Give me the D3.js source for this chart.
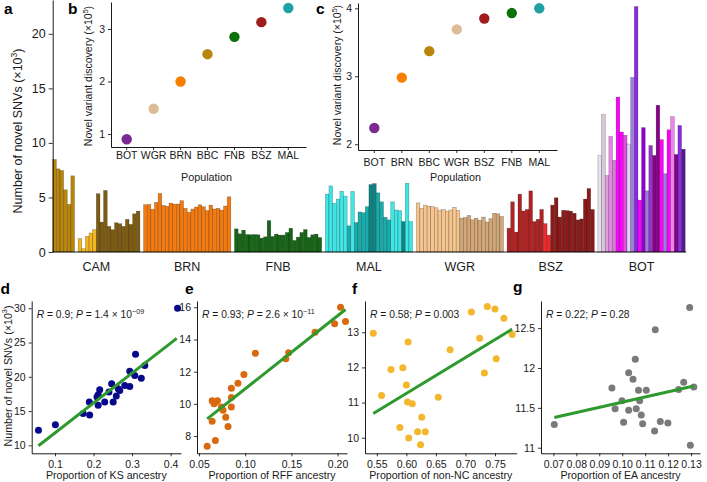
<!DOCTYPE html>
<html>
<head>
<meta charset="utf-8">
<script src="https://cdn.jsdelivr.net/npm/d3@7"></script>
<style>
  body { margin: 0; background: #fff; }
  svg { display: block; font-family: 'Liberation Sans', Arial, Helvetica, sans-serif; }
</style>
</head>
<body>
<svg id="fig" width="707" height="482"></svg>
<script>
/* ---------- data: panel a (novel SNVs per sample, x10^3) ---------- */
const camValues = [8.48, 7.62, 7.47, 5.7, 4.36, 6.98, null, 1.22, 0.3, 1.43, 1.74, 2.04,
  5.34, 2.74, 5.64, 2.35, 2.04, 2.68, 2.59, 2.35, 2.99, 2.53, 3.5, 3.75];
const camSub = ['cam1', 'cam1', 'cam1', 'cam1', 'cam1', 'cam1', null, 'cam2', 'cam2', 'cam2', 'cam2', 'cam2',
  'cam3', 'cam3', 'cam3', 'cam3', 'cam3', 'cam3', 'cam3', 'cam3', 'cam3', 'cam3', 'cam3', 'cam3'];
const brnValues = [4.33, 4.36, 3.91, 4.55, 5.36, 4.27, 4.18, 4.48, 4.39, 4.39, 4.7, 4.0,
  3.64, 3.94, 4.12, 4.33, 4.15, 3.79, 4.3, 3.94, 4.0, 3.85, 4.21, 5.06];
const fnbValues = [2.12, 1.67, 2.0, 1.6, 1.58, 1.6, 1.58, 1.27, 1.39, 2.88, 1.42, 1.64,
  1.55, 1.55, 1.79, 2.18, 1.06, 1.36, 1.79, 2.06, 1.33, 1.58, 1.64, 1.33];
const malValues = [5.3, 6.06, 4.45, 4.85, 5.58, 5.12, 2.39, 5.55, 2.7, 3.67, 3.6, 4.15,
  6.18, 6.27, 5.42, 4.6, 3.18, 2.94, 4.6, 3.85, 3.79, 2.79, 6.3, 2.79];
const malSub = ['mal1', 'mal1', 'mal1', 'mal1', 'mal1', 'mal1', 'mal2', 'mal1', 'mal2', 'mal2', 'mal2', 'mal2',
  'mal3', 'mal3', 'mal2', 'mal2', 'mal2', 'mal2', 'mal1', 'mal1', 'mal1', 'mal3', 'mal1', 'mal1'];
const wgrValues = [4.5, 4.0, 4.3, 4.2, 4.15, 4.05, 3.8, 3.9, 3.75, 3.85, 4.1, 3.8,
  3.1, 3.15, 3.35, 2.95, 3.1, 2.9, 3.2, 2.75, 3.05, 3.55, 3.5, 3.25];
const wgrSub = ['wgr1', 'wgr1', 'wgr1', 'wgr1', 'wgr1', 'wgr1', 'wgr1', 'wgr1', 'wgr1', 'wgr1', 'wgr1', 'wgr1',
  'wgr2', 'wgr2', 'wgr2', 'wgr2', 'wgr2', 'wgr2', 'wgr2', 'wgr2', 'wgr2', 'wgr2', 'wgr2', 'wgr2'];
const bszValues = [2.18, 4.6, 1.82, 5.3, 3.76, 3.9, 5.6, 2.79, 3.0, 3.9, 2.6, 1.55,
  4.3, 4.97, 3.2, 3.82, 3.79, 3.75, 3.55, 2.94, 3.03, 4.85, 5.82, 3.9];
const bszSub = ['bsz1', 'bsz1', 'bsz1', 'bsz1', 'bsz1', 'bsz1', 'bsz1', 'bsz1', 'bsz1', 'bsz1', 'bsz2', 'bsz2',
  'bsz3', 'bsz3', 'bsz3', 'bsz3', 'bsz3', 'bsz3', 'bsz3', 'bsz3', 'bsz3', 'bsz3', 'bsz3', 'bsz3'];
const botValues = [8.85, 12.6, 7.0, 10.6, 8.4, 14.2, 11.0, 10.7, 9.9, 16.0, 22.5, 4.76,
  11.4, 5.6, 9.76, 8.85, 13.45, 10.3, 7.18, 11.2, 12.4, 8.94, 11.6, 9.42];
const botSub = ['bot1', 'bot2', 'bot3', 'bot4', 'bot5', 'bot6', 'bot6', 'bot7', 'bot8', 'bot9', 'bot10', 'bot6',
  'bot11', 'bot9', 'bot12', 'bot13', 'bot13', 'bot6', 'bot9', 'bot6', 'bot14', 'bot13', 'bot10', 'bot15'];
const aTicks = [0, 5, 10, 15, 20];

/* ---------- data: insets b, c (novel variant discovery) ---------- */
const bPops = ['BOT', 'WGR', 'BRN', 'BBC', 'FNB', 'BSZ', 'MAL'];
const bValues = [0.9, 1.48, 2.0, 2.52, 2.85, 3.13, 3.4];
const cPops = ['BOT', 'BRN', 'BBC', 'WGR', 'BSZ', 'FNB', 'MAL'];
const cValues = [2.24, 2.98, 3.37, 3.69, 3.85, 3.93, 4.0];

/* ---------- data: panels d-g (ancestry vs novel SNVs) ---------- */
const dPoints = [[0.057, 12.2], [0.101, 13.0], [0.173, 14.64], [0.19, 14.44], [0.189, 16.33], [0.209, 17.05],
  [0.212, 17.39], [0.212, 15.85], [0.216, 18.1], [0.229, 16.33], [0.24, 17.78], [0.247, 18.99], [0.251, 16.33],
  [0.259, 17.2], [0.264, 18.26], [0.268, 18.0], [0.281, 18.74], [0.294, 18.6], [0.294, 20.82], [0.307, 20.2],
  [0.309, 23.3], [0.324, 19.8], [0.333, 21.64], [0.418, 30.0]];
const dFit = [[0.057, 9.95], [0.416, 25.6]];
const ePoints = [[0.0588, 7.37], [0.0642, 8.92], [0.0677, 7.72], [0.0642, 10.2], [0.0677, 10.1], [0.0699, 10.2],
  [0.0663, 10.0], [0.0742, 9.8], [0.076, 9.6], [0.0789, 9.17], [0.0814, 8.6], [0.085, 9.8], [0.085, 10.4],
  [0.085, 10.97], [0.0921, 11.28], [0.0986, 11.82], [0.111, 13.15], [0.144, 12.8], [0.147, 13.17],
  [0.1756, 14.45], [0.1968, 14.97], [0.2032, 16.0], [0.2086, 15.11]];
const eFit = [[0.0588, 9.07], [0.2086, 15.86]];
const fPoints = [[0.544, 12.97], [0.558, 11.2], [0.574, 11.94], [0.589, 10.29], [0.594, 11.99], [0.6, 11.5],
  [0.603, 12.72], [0.602, 11.02], [0.604, 9.99], [0.61, 10.97], [0.619, 10.17], [0.624, 9.8], [0.626, 10.58],
  [0.632, 10.17], [0.654, 11.15], [0.674, 12.5], [0.71, 13.58], [0.724, 12.83], [0.732, 11.84], [0.737, 13.73],
  [0.75, 13.66], [0.752, 12.25], [0.765, 13.4], [0.779, 12.94]];
const fFit = [[0.544, 10.69], [0.779, 13.09]];
const gPoints = [[0.0704, 11.29], [0.0955, 11.75], [0.0969, 11.49], [0.0999, 11.59], [0.1006, 11.32],
  [0.1028, 11.94], [0.1028, 11.47], [0.1047, 11.86], [0.1057, 12.11], [0.1061, 11.49], [0.1071, 11.72],
  [0.1076, 11.59], [0.1083, 11.41], [0.1089, 11.3], [0.1105, 11.72], [0.1141, 11.21], [0.1144, 12.48],
  [0.1166, 11.33], [0.1199, 11.31], [0.1246, 11.73], [0.1268, 11.82], [0.1294, 12.76], [0.1297, 11.03],
  [0.1312, 11.76]];
const gFit = [[0.0704, 11.38], [0.1312, 11.775]];

/* ---------- styles ---------- */
const SUB_COLORS = {
  cam1: '#b8860b', cam2: '#f2b51f', cam3: '#7d5c12',
  brn: '#f47a10', fnb: '#176617',
  mal1: '#3ee6e6', mal2: '#17adad', mal3: '#0c8484',
  wgr1: '#f6c48c', wgr2: '#d2a677',
  bsz1: '#b22222', bsz2: '#ee2c2c', bsz3: '#8b1a1a',
  bot1: '#e8e2f0', bot2: '#d9c6d9', bot3: '#dda0dd', bot4: '#e884e8', bot5: '#d47fd4',
  bot6: '#ff00ff', bot7: '#e050e0', bot8: '#dcdcf0', bot9: '#9b7fdb', bot10: '#8a2be2',
  bot11: '#9400d3', bot12: '#9932cc', bot13: '#8b008b', bot14: '#ee82ee', bot15: '#551a8b',
};
const POP_COLORS = {
  BOT: '#7b2a90', WGR: '#ddbd97', BRN: '#f77f00', BBC: '#b8860b',
  FNB: '#0b720b', BSZ: '#9e1c1c', MAL: '#1fa0a2',
};
const FIT_COLOR = '#2e9a2e';
const TXT = '#1a1a1a';

const svg = d3.select('#fig');

function styleAxis(g, size) {
  g.selectAll('path.domain').attr('stroke', '#000').attr('stroke-width', 0.9);
  g.selectAll('.tick line').attr('stroke', '#000').attr('stroke-width', 0.8);
  g.selectAll('.tick text').attr('fill', TXT).style('font-size', size + 'px')
    .style('font-family', "'Liberation Sans', Arial, sans-serif");
}

// rotated axis title with a superscript exponent
function rotatedLabel(x, y, size, base, sup, tail) {
  const t = svg.append('text')
    .attr('transform', `translate(${x},${y}) rotate(-90)`)
    .attr('text-anchor', 'middle')
    .attr('fill', TXT)
    .style('font-size', size + 'px');
  t.append('tspan').text(base);
  t.append('tspan').attr('dy', -size * 0.38).style('font-size', (size * 0.68) + 'px').text(sup);
  t.append('tspan').attr('dy', size * 0.38).text(tail);
}

/* ---------- panel a: bars ---------- */
const groups = [
  { name: 'CAM', values: camValues, sub: camSub },
  { name: 'BRN', values: brnValues, sub: brnValues.map(() => 'brn') },
  { name: 'FNB', values: fnbValues, sub: fnbValues.map(() => 'fnb') },
  { name: 'MAL', values: malValues, sub: malSub },
  { name: 'WGR', values: wgrValues, sub: wgrSub },
  { name: 'BSZ', values: bszValues, sub: bszSub },
  { name: 'BOT', values: botValues, sub: botSub },
];

const slots = [];
groups.forEach((grp, gi) => {
  if (gi > 0) slots.push({ id: 'gap' + gi, v: null });
  grp.values.forEach((v, i) => slots.push({ id: grp.name + i, group: grp.name, v, sub: grp.sub[i] }));
});

const xA = d3.scaleBand().domain(slots.map(d => d.id)).range([52.7, 685.2]);
const yA = d3.scaleLinear().domain([0, 23.1]).range([252, 0]);

svg.append('g').selectAll('rect')
  .data(slots.filter(d => d.v != null))
  .join('rect')
  .attr('x', d => xA(d.id))
  .attr('width', xA.bandwidth())
  .attr('y', d => yA(d.v))
  .attr('height', d => yA(0) - yA(d.v))
  .attr('fill', d => SUB_COLORS[d.sub])
  .attr('stroke', 'rgba(0,0,0,0.4)')
  .attr('stroke-width', 0.5);

const axA = svg.append('g').attr('transform', 'translate(52.7,0)')
  .call(d3.axisLeft(yA).tickValues(aTicks).tickSize(4).tickSizeOuter(0).tickPadding(3));
styleAxis(axA, 12.5);

svg.append('line')
  .attr('x1', xA.range()[0]).attr('x2', xA.range()[1] + 1)
  .attr('y1', yA(0)).attr('y2', yA(0))
  .attr('stroke', '#000').attr('stroke-width', 0.9);

groups.forEach(grp => {
  const ids = slots.filter(s => s.group === grp.name).map(s => s.id);
  const cx = (xA(ids[0]) + xA(ids[ids.length - 1]) + xA.bandwidth()) / 2;
  svg.append('text')
    .attr('x', cx).attr('y', 271)
    .attr('text-anchor', 'middle')
    .attr('fill', TXT)
    .style('font-size', '12.5px')
    .text(grp.name);
});

rotatedLabel(22, 131, 12.5, 'Number of novel SNVs (×10', '3', ')');

/* ---------- insets b and c ---------- */
function drawInset(p) {
  const x = d3.scalePoint().domain(p.pops).range(p.xr);
  const y = d3.scaleLinear().domain(p.yDomain).range([p.y1, p.y0]);

  const ay = svg.append('g').attr('transform', `translate(${p.x0},0)`)
    .call(d3.axisLeft(y).tickValues(p.yTicks).tickFormat(d3.format('~g'))
      .tickSize(3).tickSizeOuter(0).tickPadding(3));
  styleAxis(ay, 10.5);

  const ax = svg.append('g').attr('transform', `translate(0,${p.y1})`)
    .call(d3.axisBottom(d3.scaleLinear().domain([p.x0, p.x1]).range([p.x0, p.x1]))
      .tickValues([]).tickSizeOuter(0));
  styleAxis(ax, 10.5);

  svg.append('g').selectAll('line')
    .data(p.pops).join('line')
    .attr('x1', d => x(d)).attr('x2', d => x(d))
    .attr('y1', p.y1).attr('y2', p.y1 + 3)
    .attr('stroke', '#000').attr('stroke-width', 0.8);

  svg.append('g').selectAll('text')
    .data(p.pops).join('text')
    .attr('x', d => x(d)).attr('y', p.labelY)
    .attr('text-anchor', 'middle')
    .attr('fill', TXT)
    .style('font-size', '10.5px')
    .text(d => d);

  svg.append('text')
    .attr('x', (p.x0 + p.x1) / 2 - 2).attr('y', 180.5)
    .attr('text-anchor', 'middle')
    .attr('fill', TXT)
    .style('font-size', '10.8px')
    .text('Population');

  svg.append('g').selectAll('circle')
    .data(p.pops).join('circle')
    .attr('cx', d => x(d))
    .attr('cy', (d, i) => y(p.values[i]))
    .attr('r', 5.2)
    .attr('fill', d => POP_COLORS[d]);

  rotatedLabel(p.ylabX, p.ylabY, 10.5, 'Novel variant discovery (×10', '5', ')');
}

drawInset({
  pops: bPops, values: bValues, x0: 111, x1: 306, y0: 2, y1: 147,
  xr: [126.7, 288.3], yDomain: [0.752, 3.514], yTicks: [1, 2, 3],
  labelY: 159, ylabX: 92, ylabY: 76,
});
drawInset({
  pops: cPops, values: cValues, x0: 358, x1: 557, y0: 3, y1: 150,
  xr: [374.3, 539.3], yDomain: [1.916, 4.078], yTicks: [2, 3, 4],
  labelY: 166, ylabX: 340.5, ylabY: 75,
});

/* ---------- panels d-g: scatter with fit ---------- */
function drawScatter(p) {
  const x = d3.scaleLinear().domain(p.xDomain).range([p.x0, p.x1]);
  const y = d3.scaleLinear().domain(p.yDomain).range([p.y1, p.y0]);

  const ay = svg.append('g').attr('transform', `translate(${p.x0},0)`)
    .call(d3.axisLeft(y).tickValues(p.yTicks).tickFormat(d3.format('~g'))
      .tickSize(3).tickSizeOuter(0).tickPadding(3));
  styleAxis(ay, 10.5);

  const ax = svg.append('g').attr('transform', `translate(0,${p.y1})`)
    .call(d3.axisBottom(x).tickValues(p.xTicks).tickFormat(d3.format(p.xFmt))
      .tickSize(3).tickSizeOuter(0).tickPadding(4));
  styleAxis(ax, 10.5);

  svg.append('g').selectAll('circle')
    .data(p.points).join('circle')
    .attr('cx', d => x(d[0]))
    .attr('cy', d => y(d[1]))
    .attr('r', 3.5)
    .attr('fill', p.color);

  svg.append('path')
    .datum(p.fit)
    .attr('d', d3.line().x(d => x(d[0])).y(d => y(d[1])))
    .attr('fill', 'none')
    .attr('stroke', FIT_COLOR)
    .attr('stroke-width', 3);

  svg.append('text')
    .attr('x', (p.x0 + p.x1) / 2).attr('y', 479)
    .attr('text-anchor', 'middle')
    .attr('fill', TXT)
    .style('font-size', '10.6px')
    .text(p.xTitle);

  // R / P annotation
  const t = svg.append('text')
    .attr('x', p.x0 + 5).attr('y', 318)
    .attr('fill', TXT)
    .style('font-size', '10.3px');
  t.append('tspan').style('font-style', 'italic').text('R');
  t.append('tspan').text(` = ${p.r}; `);
  t.append('tspan').style('font-style', 'italic').text('P');
  t.append('tspan').text(` = ${p.p}`);
  if (p.exp) {
    t.append('tspan').attr('dy', -4).style('font-size', '7.2px').text(p.exp);
  }
}

drawScatter({
  points: dPoints, fit: dFit, color: '#08088c',
  x0: 31.7, x1: 181, y0: 301, y1: 453.3,
  xDomain: [0.0395, 0.427], yDomain: [8.84, 31.06],
  xTicks: [0.1, 0.2, 0.3, 0.4], xFmt: '.1f', yTicks: [10, 15, 20, 25, 30],
  xTitle: 'Proportion of KS ancestry', r: '0.9', p: '1.4 × 10', exp: '−09',
});
drawScatter({
  points: ePoints, fit: eFit, color: '#d8690f',
  x0: 197, x1: 347, y0: 301, y1: 453.3,
  xDomain: [0.0478, 0.2102], yDomain: [6.93, 16.39],
  xTicks: [0.05, 0.1, 0.15, 0.2], xFmt: '.2f', yTicks: [8, 10, 12, 14, 16],
  xTitle: 'Proportion of RFF ancestry', r: '0.93', p: '2.6 × 10', exp: '−11',
});
drawScatter({
  points: fPoints, fit: fFit, color: '#f4b62c',
  x0: 365, x1: 516.7, y0: 301, y1: 453.3,
  xDomain: [0.530, 0.7867], yDomain: [9.557, 13.89],
  xTicks: [0.55, 0.6, 0.65, 0.7, 0.75], xFmt: '.2f', yTicks: [10, 11, 12, 13],
  xTitle: 'Proportion of non-NC ancestry', r: '0.58', p: '0.003', exp: null,
});
drawScatter({
  points: gPoints, fit: gFit, color: '#7a7a7a',
  x0: 541, x1: 700, y0: 301, y1: 453.3,
  xDomain: [0.0646, 0.1339], yDomain: [10.93, 12.84],
  xTicks: [0.07, 0.08, 0.09, 0.1, 0.11, 0.12, 0.13], xFmt: '.2f', yTicks: [11, 11.5, 12, 12.5],
  xTitle: 'Proportion of EA ancestry', r: '0.22', p: '0.28', exp: null,
});

rotatedLabel(11.5, 376, 10.7, 'Number of novel SNVs (×10', '3', ')');

/* ---------- panel letters ---------- */
const letters = [['a', 4, 14], ['b', 68, 14], ['c', 316, 14],
  ['d', 0.5, 294], ['e', 185, 294], ['f', 352, 294], ['g', 513, 292]];
svg.append('g').selectAll('text')
  .data(letters).join('text')
  .attr('x', d => d[1]).attr('y', d => d[2])
  .attr('fill', '#000')
  .style('font-size', '15.5px')
  .style('font-weight', 'bold')
  .text(d => d[0]);
</script>
</body>
</html>
